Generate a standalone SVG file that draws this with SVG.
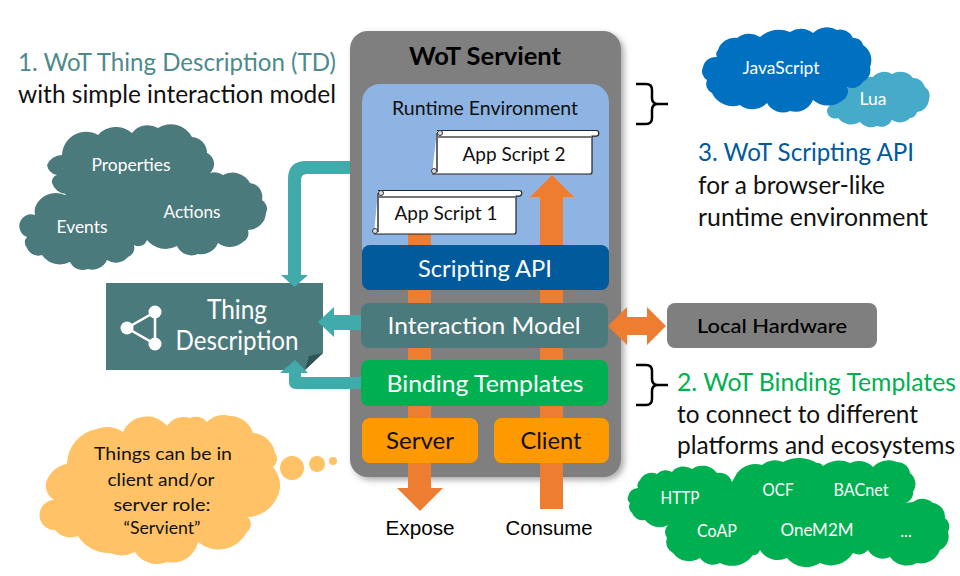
<svg xmlns="http://www.w3.org/2000/svg" width="960" height="576" viewBox="0 0 960 576">
<defs>
<filter id="sh" x="-10%" y="-10%" width="120%" height="120%"><feGaussianBlur stdDeviation="3"/></filter>
<g id="curl"><circle r="2.500" fill="#ddd" stroke="#333" stroke-width="1"/></g>
</defs>
<style>
text{font-family:Lato,"Open Sans","Liberation Sans",sans-serif}
.w{fill:#fff}.k{fill:#111}
.m{text-anchor:middle}
.teal{fill:#4B7A7C}.aq{fill:#41ABAB}.or{fill:#ED7D31}
.br{fill:none;stroke:#000;stroke-width:2.500}
.scr{fill:#fff;stroke:#222;stroke-width:1.200}
.edge{fill:none;stroke:#555;stroke-width:1.800}
</style>
<rect width="960" height="576" fill="#fff"/>

<g id="servient">
<rect x="353" y="34" width="271" height="446" rx="18" fill="#555" opacity=".5" filter="url(#sh)"/>
<rect x="350" y="31" width="271" height="446" rx="18" fill="#7F7F7F"/>
<text x="485" y="65" class="m" fill="#000" font-size="24" font-weight="700" textLength="152" lengthAdjust="spacingAndGlyphs">WoT Servient</text>
</g>
<g id="runtime">
<path d="M362 250V102a18 18 0 0 1 18-18H591a18 18 0 0 1 18 18V250Z" fill="#8EB4E3"/>
<text x="485" y="115" class="m k" font-size="18.500" textLength="186" lengthAdjust="spacingAndGlyphs">Runtime Environment</text>
</g>

<g id="thing-description">
<path d="M106 283H323V353L305 370H106Z" class="teal"/>
<path d="M323 353L305 370L309 356Z" fill="#2F5456"/>
<path d="M155 312L127 328L155 344Z" fill="none" stroke="#fff" stroke-width="2.500"/>
<circle cx="155" cy="312" r="6.500" class="w"/><circle cx="127" cy="328" r="6.500" class="w"/><circle cx="155" cy="344" r="6.500" class="w"/>
<text x="237" y="319" class="m w" font-size="26" textLength="60" lengthAdjust="spacingAndGlyphs">Thing</text>
<text x="237" y="350" class="m w" font-size="26" textLength="123" lengthAdjust="spacingAndGlyphs">Description</text>
</g>

<g id="connectors">
<rect x="408" y="230" width="23" height="260" class="or"/>
<path d="M397 488H443L420 511Z" class="or"/>
<path d="M540 509V197H530L552 175L574 197H563V509Z" class="or"/>
<path d="M350 161H306Q288 161 288 179V275H281L294.500 287L308 275H301V180Q301 174 307 174H350Z" class="aq"/>
<path d="M361 315H334V307L318 322L334 337V330H361Z" class="aq"/>
<path d="M361 377H301V373H308L295 360L280 373H289V382Q289 389 296 389H361Z" class="aq"/>
<path d="M608 326L627 307V317H647V307L666 326L647 345V335H627V345Z" class="or"/>
</g>

<g id="script2">
<path class="scr" d="M437 130.500H596a2.800 2.800 0 0 1 0 5.600H592V172a2 2 0 0 1-2 2H432"/>
<path class="edge" d="M437 133V172"/>
<rect x="437" y="136" width="155" height="2" fill="#777"/>
<use href="#curl" x="440" y="133"/><use href="#curl" x="434" y="171"/>
<text x="514" y="161" class="m k" font-size="18.500" textLength="103" lengthAdjust="spacingAndGlyphs">App Script 2</text>
</g>
<g id="script1">
<path class="scr" d="M378 190.500H519a2.800 2.800 0 0 1 0 5.600H516V232a2 2 0 0 1-2 2H374"/>
<path class="edge" d="M378 193V232"/>
<rect x="379" y="196" width="137" height="2" fill="#777"/>
<use href="#curl" x="381" y="193"/><use href="#curl" x="375" y="231"/>
<text x="446" y="220" class="m k" font-size="18.500" textLength="103" lengthAdjust="spacingAndGlyphs">App Script 1</text>
</g>

<g id="scripting-api"><rect x="362" y="245" width="247" height="45" rx="8" fill="#005A9C"/>
<text x="485" y="277" class="m w" font-size="24" textLength="134" lengthAdjust="spacingAndGlyphs">Scripting API</text></g>
<g id="interaction-model"><rect x="361" y="303" width="247" height="45" rx="8" class="teal"/>
<text x="484" y="334" class="m w" font-size="24" textLength="193" lengthAdjust="spacingAndGlyphs">Interaction Model</text></g>
<g id="binding-templates"><rect x="361" y="360" width="247" height="46" rx="8" fill="#00B050"/>
<text x="485" y="392" class="m w" font-size="24" textLength="197" lengthAdjust="spacingAndGlyphs">Binding Templates</text></g>
<g id="server"><rect x="362" y="418" width="116" height="45" rx="8" fill="#FF9900"/>
<text x="420" y="449" class="m k" font-size="24" textLength="68" lengthAdjust="spacingAndGlyphs">Server</text></g>
<g id="client"><rect x="494" y="418" width="115" height="45" rx="8" fill="#FF9900"/>
<text x="551" y="449" class="m k" font-size="24" textLength="61" lengthAdjust="spacingAndGlyphs">Client</text></g>

<g id="expose"><text x="420" y="535" class="m" fill="#000" font-size="20" style="font-family:'Liberation Sans',sans-serif" textLength="69" lengthAdjust="spacingAndGlyphs">Expose</text></g>
<g id="consume"><text x="549" y="535" class="m" fill="#000" font-size="20" style="font-family:'Liberation Sans',sans-serif" textLength="87" lengthAdjust="spacingAndGlyphs">Consume</text></g>

<g id="td-cloud">
<path class="teal" d="M47 165A16 16 0 0 1 62 155A24 24 0 0 1 98 135A24 24 0 0 1 132 133A20 20 0 0 1 158 128A24 24 0 0 1 192 137A16 16 0 0 1 207 153A12 12 0 0 1 210 173A16 16 0 0 1 223 175A20 20 0 0 1 250 183A14 14 0 0 1 262 200A10 10 0 0 1 266 213A18 18 0 0 1 248 230A10 10 0 0 1 243 242A20 20 0 0 1 218 243A18 18 0 0 1 198 254A16 16 0 0 1 177 246A24 24 0 0 1 147 240A9 9 0 0 1 134 245A10 10 0 0 1 128 257A16 16 0 0 1 107 260A16 16 0 0 1 88 269A14 14 0 0 1 70 262A22 22 0 0 1 42 255A12 12 0 0 1 27 248A8 8 0 0 1 27 237A10 10 0 0 1 35 215A16 16 0 0 1 38 202A22 22 0 0 1 65 195L66 194A16 16 0 0 1 52 183A7 7 0 0 1 57 175A12 12 0 0 1 47 165Z"/>
<text x="131" y="171" class="m w" font-size="16.500" textLength="79" lengthAdjust="spacingAndGlyphs">Properties</text>
<text x="192" y="218" class="m w" font-size="16.500" textLength="57" lengthAdjust="spacingAndGlyphs">Actions</text>
<text x="82" y="233" class="m w" font-size="16.500" textLength="51" lengthAdjust="spacingAndGlyphs">Events</text>
</g>

<g id="thought-cloud">
<path fill="#FFC266" d="M46 483A26 26 0 0 1 67 464A36 36 0 0 1 97 429A28 28 0 0 1 123 432A26 26 0 0 1 167 426A20 20 0 0 1 190 418A14 14 0 0 1 207 422A22 22 0 0 1 230 416A24 24 0 0 1 253 433A24 24 0 0 1 275 453A10 10 0 0 1 273 467A30 30 0 0 1 280 488A34 34 0 0 1 248 517A10 10 0 0 1 247 532A32 32 0 0 1 198 542A26 26 0 0 1 167 562A26 26 0 0 1 135 552A30 30 0 0 1 110 553A36 36 0 0 1 78 536A20 20 0 0 1 55 530A14 14 0 0 1 54 500A18 18 0 0 1 46 483Z"/>
<circle cx="292" cy="468" r="12" fill="#FFC266"/><circle cx="317" cy="464" r="8" fill="#FFC266"/><circle cx="333" cy="461" r="4" fill="#FFC266"/>
<g class="k" font-size="17.500">
<text x="163" y="460" class="m" textLength="138" lengthAdjust="spacingAndGlyphs">Things can be in</text>
<text x="161" y="486" class="m" textLength="107" lengthAdjust="spacingAndGlyphs">client and/or</text>
<text x="162" y="511" class="m" textLength="97" lengthAdjust="spacingAndGlyphs">server role:</text>
<text x="162" y="534" class="m" textLength="77" lengthAdjust="spacingAndGlyphs">“Servient”</text>
</g>
</g>

<g id="lua-cloud">
<path fill="#46ABC9" d="M827 110A9 9 0 0 1 836 103A14 14 0 0 1 847 88A13 13 0 0 1 863 82A9 9 0 0 1 873 77A15 15 0 0 1 892 74A16 16 0 0 1 913 78A12 12 0 0 1 925 87A11 11 0 0 1 929 100A13 13 0 0 1 917 112A7 7 0 0 1 910 118A14 14 0 0 1 892 120A12 12 0 0 1 877 126A14 14 0 0 1 860 122A17 17 0 0 1 838 118A8 8 0 0 1 827 110Z"/>
<text x="873" y="105" class="m w" font-size="16.500" textLength="27" lengthAdjust="spacingAndGlyphs">Lua</text>
</g>
<g id="js-cloud">
<path fill="#0070C0" d="M703 67A13 13 0 0 1 717 57A6 6 0 0 1 718 50A17 17 0 0 1 737 38A20 20 0 0 1 760 37A28 28 0 0 1 790 32A20 20 0 0 1 813 33A20 20 0 0 1 837 30A14 14 0 0 1 853 38A9 9 0 0 1 863 45A18 18 0 0 1 870 67A13 13 0 0 1 863 82A13 13 0 0 1 847 87A10 10 0 0 1 843 100A23 23 0 0 1 813 100A19 19 0 0 1 790 111A18 18 0 0 1 767 103A20 20 0 0 1 740 105A23 23 0 0 1 712 93A10 10 0 0 1 707 80A10 10 0 0 1 703 67Z"/>
<text x="781" y="74" class="m w" font-size="16.500" textLength="77" lengthAdjust="spacingAndGlyphs">JavaScript</text>
</g>

<g id="protocol-cloud">
<path fill="#00B050" d="M628 497A10 10 0 0 1 638 488A7 7 0 0 1 640 480A13 13 0 0 1 657 474A12 12 0 0 1 672 472A15 15 0 0 1 692 469A18 18 0 0 1 717 473A13 13 0 0 1 732 482L737 473A24 24 0 0 1 762 465A20 20 0 0 1 783 462A34 34 0 0 1 817 463A6 6 0 0 1 823 466A26 26 0 0 1 850 463A20 20 0 0 1 873 467A22 22 0 0 1 897 462A13 13 0 0 1 910 473A14 14 0 0 1 913 492A10 10 0 0 1 905 503L913 502A15 15 0 0 1 933 503A14 14 0 0 1 945 518A11 11 0 0 1 948 532A15 15 0 0 1 940 550A20 20 0 0 1 917 563A21 21 0 0 1 890 557A17 17 0 0 1 868 550A12 12 0 0 1 853 553A26 26 0 0 1 820 563A25 25 0 0 1 787 558A21 21 0 0 1 760 550A7 7 0 0 1 753 555A26 26 0 0 1 720 563A16 16 0 0 1 700 558A20 20 0 0 1 673 553A12 12 0 0 1 667 538A10 10 0 0 1 668 525A18 18 0 0 1 645 520A11 11 0 0 1 632 513A8 8 0 0 1 630 503A5 5 0 0 1 628 497Z"/>
<text x="680" y="504" class="m w" font-size="16.500" textLength="39" lengthAdjust="spacingAndGlyphs">HTTP</text>
<text x="778" y="496" class="m w" font-size="16.500" textLength="31" lengthAdjust="spacingAndGlyphs">OCF</text>
<text x="861" y="496" class="m w" font-size="16.500" textLength="55" lengthAdjust="spacingAndGlyphs">BACnet</text>
<text x="717" y="537" class="m w" font-size="16.500" textLength="40" lengthAdjust="spacingAndGlyphs">CoAP</text>
<text x="817" y="536" class="m w" font-size="16.500" textLength="73" lengthAdjust="spacingAndGlyphs">OneM2M</text>
<text x="906" y="537" class="m w" font-size="16.500">...</text>
</g>

<g id="local-hardware"><rect x="667" y="303" width="210" height="45" rx="8" fill="#7F7F7F"/>
<text x="772" y="333" class="m" fill="#000" font-size="20" font-weight="500" textLength="150" lengthAdjust="spacingAndGlyphs">Local Hardware</text></g>

<g id="braces">
<path class="br" d="M636 84H646Q652 84 652 90V98Q652 104 658 104H668M658 104Q652 104 652 110V118Q652 124 646 124H636"/>
<path class="br" d="M636 365H646Q652 365 652 371V379Q652 385 658 385H668M658 385Q652 385 652 391V399Q652 405 646 405H636"/>
</g>

<g id="captions" font-size="24.500">
<text x="18" y="71" fill="#4E8A8C" textLength="318" lengthAdjust="spacingAndGlyphs">1. WoT Thing Description (TD)</text>
<text x="18" y="103" class="k" textLength="318" lengthAdjust="spacingAndGlyphs">with simple interaction model</text>
<text x="698" y="161" fill="#005A9C" textLength="216" lengthAdjust="spacingAndGlyphs">3. WoT Scripting API</text>
<text x="698" y="194" class="k" textLength="187" lengthAdjust="spacingAndGlyphs">for a browser-like</text>
<text x="698" y="226" class="k" textLength="230" lengthAdjust="spacingAndGlyphs">runtime environment</text>
<text x="677" y="391" fill="#00B050" textLength="279" lengthAdjust="spacingAndGlyphs">2. WoT Binding Templates</text>
<text x="677" y="423" class="k" textLength="241" lengthAdjust="spacingAndGlyphs">to connect to different</text>
<text x="677" y="454" class="k" textLength="278" lengthAdjust="spacingAndGlyphs">platforms and ecosystems</text>
</g>
</svg>
